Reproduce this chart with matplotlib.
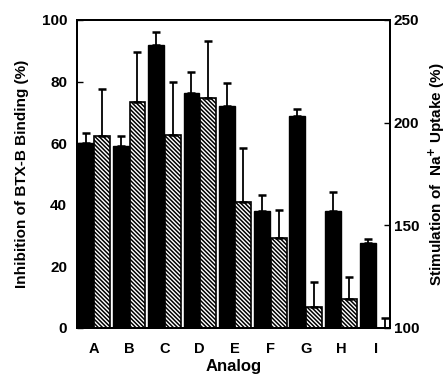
import matplotlib
matplotlib.use("Agg")
import matplotlib.pyplot as plt
import numpy as np

plt.rcParams['font.family'] = ['Liberation Sans', 'DejaVu Sans']
plt.rcParams['font.weight'] = 'bold'
plt.rcParams['hatch.linewidth'] = 1.1

analogs = ["A", "B", "C", "D", "E", "F", "G", "H", "I"]
# Inhibition of BTX-B binding (%) - black bars, left axis
binding = [60.0, 59.2, 92.0, 76.4, 72.2, 38.1, 68.8, 38.1, 27.7]
binding_err = [3.4, 3.0, 4.0, 6.6, 7.4, 5.0, 2.3, 6.2, 1.1]
# Stimulation of Na+ uptake (%) - hatched bars, right axis
uptake = [193.5, 210.3, 194.0, 212.0, 161.5, 143.7, 110.4, 114.0, 100.0]
uptake_err = [23.0, 24.0, 26.0, 28.0, 26.0, 14.0, 12.0, 11.0, 5.0]

fig = plt.figure(figsize=(4.47, 3.77), dpi=100)
ax = fig.add_axes([0.172, 0.130, 0.700, 0.817])
ax2 = ax.twinx()

x = np.arange(len(analogs))
w = 0.45
off = 0.235

ax.bar(x - off, binding, width=w, color='black', edgecolor='black', zorder=2)
ax.errorbar(x - off, binding, yerr=[np.zeros(len(x)), binding_err], fmt='none',
            ecolor='black', elinewidth=1.3, capsize=3, capthick=1.8, zorder=3)

ax2.bar(x + off, np.array(uptake) - 100, bottom=100, width=w, color='white',
        edgecolor='black', hatch='\\\\\\\\\\\\\\\\', linewidth=1.2, zorder=2)
ax2.errorbar(x + off, uptake, yerr=[np.zeros(len(x)), uptake_err], fmt='none',
             ecolor='black', elinewidth=1.3, capsize=3, capthick=1.8, zorder=3)

ax.set_xlim(-0.48, 8.38)
ax.set_ylim(0, 100)
ax2.set_ylim(100, 250)
ax.set_yticks([0, 20, 40, 60, 80, 100])
ax2.set_yticks([100, 150, 200, 250])
ax.set_xticks(x)
ax.set_xticklabels(analogs)

ax.tick_params(axis='y', direction='in', length=4, width=1, labelsize=11, pad=7)
ax2.tick_params(axis='y', direction='in', length=4, width=1, labelsize=11, pad=3)
ax.tick_params(axis='x', length=0, labelsize=10.5, pad=10)

for sp in ax.spines.values():
    sp.set_linewidth(1.4)
for sp in ax2.spines.values():
    sp.set_linewidth(1.4)

ax.set_xlabel("Analog", fontsize=12, fontweight='bold', labelpad=2)
ax.set_ylabel("Inhibition of BTX-B Binding (%)", fontsize=11, fontweight='bold', labelpad=9)
ax2.set_ylabel("Stimulation of  Na$^{\\mathbf{+}}$ Uptake (%)", fontsize=11, fontweight='bold', labelpad=5)

fig.savefig("out.png", dpi=100)
